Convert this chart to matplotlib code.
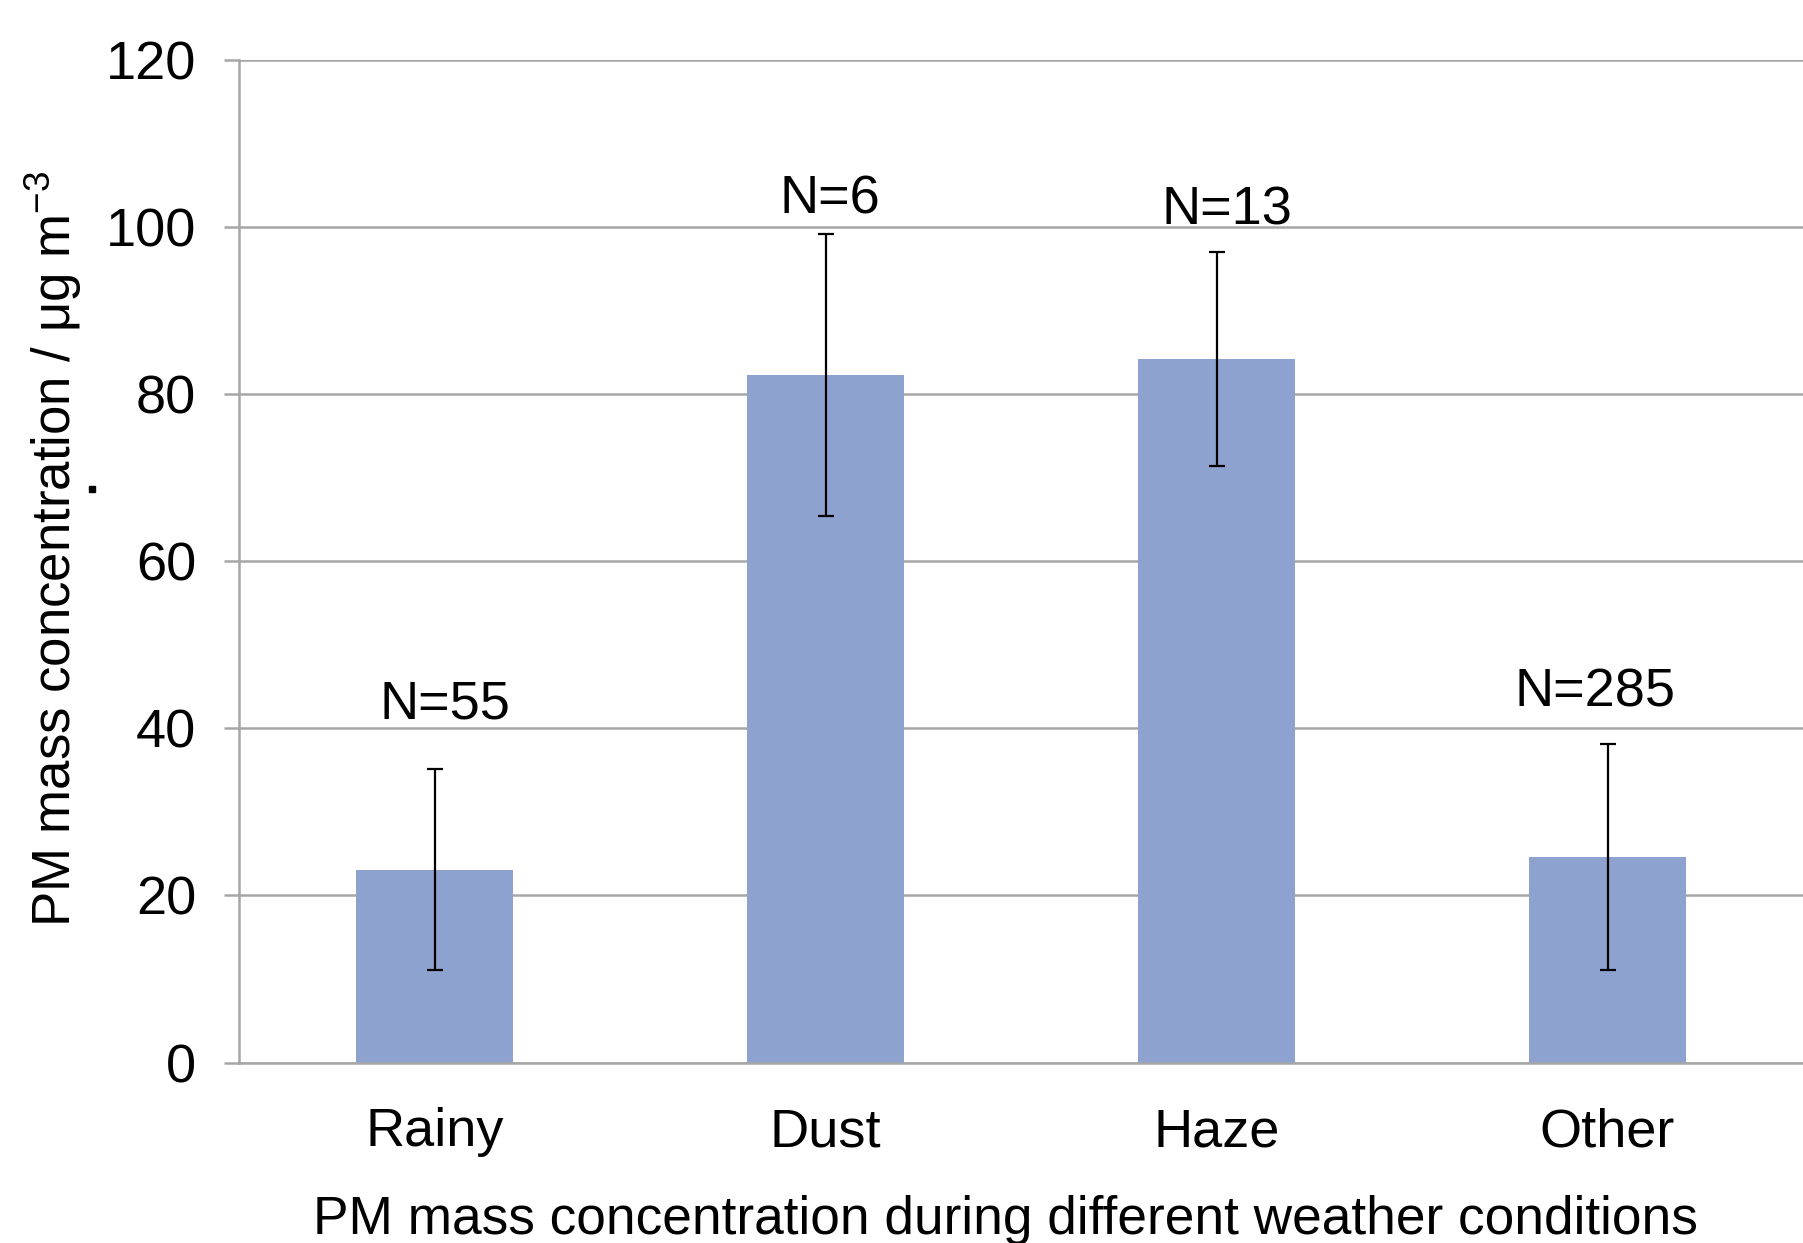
import matplotlib
matplotlib.use('Agg')
import matplotlib.pyplot as plt
import numpy as np

# weather categories and PM means / std dev
categories = ['Rainy', 'Dust', 'Haze', 'Other']
pm_mean = [23.1, 82.3, 84.2, 24.6]
pm_err = [12.0, 16.9, 12.8, 13.5]
n_labels = ['N=55', 'N=6', 'N=13', 'N=285']
n_label_y = [42.9, 103.3, 102.0, 44.3]
n_label_dx = [0.026, 0.012, 0.026, -0.032]

plt.rcParams['font.family'] = ['Liberation Sans', 'DejaVu Sans']
plt.rcParams['mathtext.fontset'] = 'custom'
plt.rcParams['mathtext.rm'] = 'Liberation Sans'

FS = 39

fig = plt.figure(figsize=(18.03, 12.43), dpi=100)
ax = fig.add_axes([0.1326, 0.1451, 0.8674, 0.8068])

x = np.arange(len(categories))
ax.bar(x, pm_mean, width=0.4, color='#8EA2D0', zorder=2)
ax.errorbar(x, pm_mean, yerr=pm_err, fmt='none', ecolor='black',
            elinewidth=1.6, capsize=6, capthick=1.6, zorder=3)

for xi, lab, ly, dx in zip(x, n_labels, n_label_y, n_label_dx):
    ax.text(xi + dx, ly, lab, ha='center', va='center', fontsize=FS)

ax.set_xlim(-0.5, 3.5)
ax.set_ylim(0, 120)
ax.set_yticks(np.arange(0, 121, 20))
ax.set_xticks(x)
ax.set_xticklabels(categories)
ax.grid(axis='y', color='#A6A6A6', linewidth=1.8, zorder=0)
ax.set_axisbelow(True)

for side in ['top', 'right']:
    ax.spines[side].set_visible(False)
for side in ['left', 'bottom']:
    ax.spines[side].set_color('#A6A6A6')
    ax.spines[side].set_linewidth(1.8)

ax.tick_params(axis='y', length=11, width=1.8, color='#A6A6A6',
               labelsize=FS, pad=20)
ax.tick_params(axis='x', length=0, labelsize=FS, pad=32)

ax.set_xlabel('PM mass concentration during different weather conditions',
              fontsize=38.3, labelpad=27)
ax.xaxis.label.set_x(0.49)
ax.set_ylabel('PM mass concentration / μg m$^{-3}$', fontsize=38)
ax.yaxis.set_label_coords(-0.099, 0.512)

# stray dot present in the original figure
fig.lines.append(plt.Line2D([0.051], [0.6066], marker='s', markersize=4.5,
                            color='black', transform=fig.transFigure))

fig.savefig('out.png', dpi=100)
